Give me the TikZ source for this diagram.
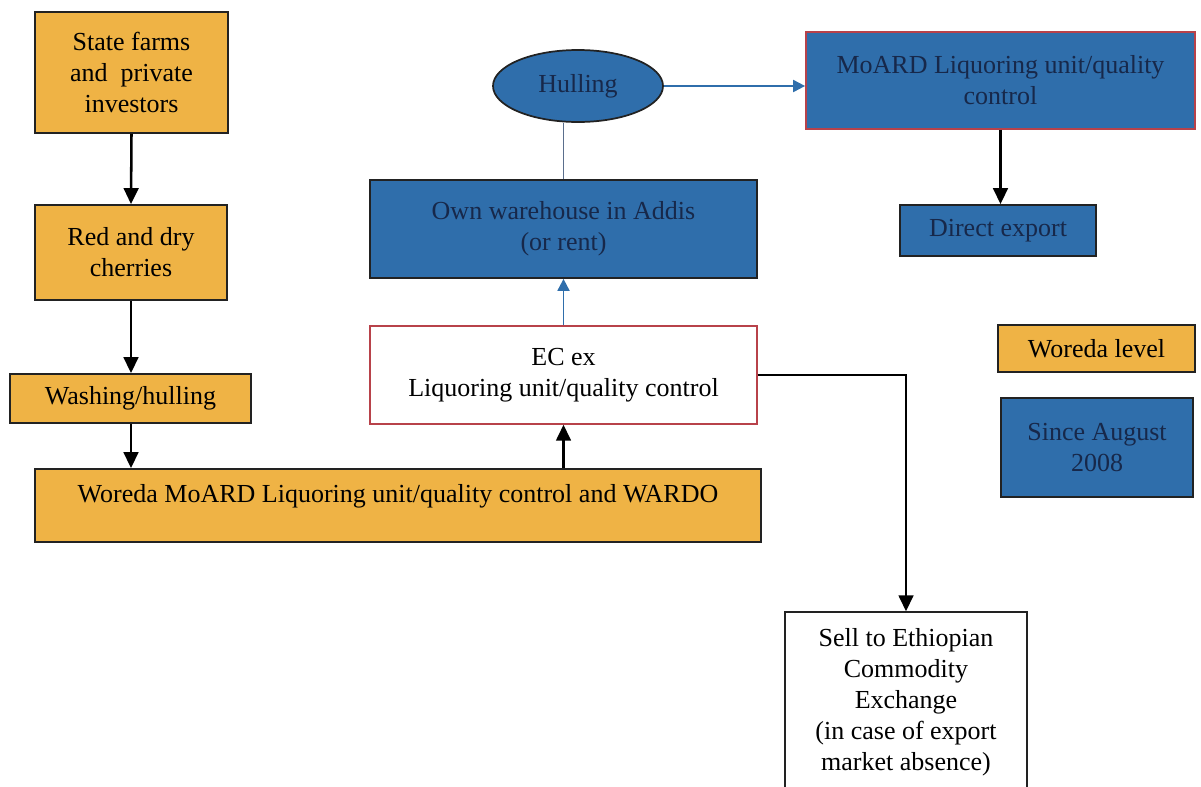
\documentclass[tikz,border=0pt]{standalone}
\usepackage{fontspec}
\setmainfont{Liberation Serif}
\usetikzlibrary{arrows.meta,shapes.geometric}
\definecolor{ochre}{HTML}{EFB345}
\definecolor{steel}{HTML}{2F6EAB}
\definecolor{navytext}{HTML}{17284A}
\definecolor{edgered}{HTML}{B8424A}
\definecolor{edgedark}{HTML}{222222}
\definecolor{linkgray}{HTML}{5A6E8C}
\tikzset{
  base/.style={rectangle, inner sep=0pt, align=center, font=\fontsize{19.5}{23.3}\selectfont},
  orangebox/.style={base, draw=edgedark, line width=1.3pt, fill=ochre, text=black},
  bluebox/.style={base, draw=edgedark, line width=1.3pt, fill=steel, text=navytext},
  whitebox/.style={base, draw=edgedark, line width=1pt, fill=white, text=black},
  label/.style={inner sep=0pt, align=center, font=\fontsize{19.5}{23.3}\selectfont},
  blackarrow/.style={draw=black, line width=1.9pt, -{Triangle[width=11pt,length=12pt]}},
  bluearrow/.style={draw=steel, line width=1.4pt, -{Triangle[width=9pt,length=9pt]}},
  plainline/.style={draw=linkgray, line width=1.4pt}
}
\begin{document}
\begin{tikzpicture}[x=0.75pt,y=-0.75pt]
\useasboundingbox (0,0) rectangle (1201,786);
\clip (0,0) rectangle (1201,786);

% left column, woreda level
\node[orangebox, minimum width=144.75pt, minimum height=90.75pt] (state) at (131.5,72.5)
  {State farms\\and\ \ private\\investors};
\node[orangebox, minimum width=144pt, minimum height=71.25pt] (cherries) at (131,252.5)
  {Red and dry\\cherries};
\node[orangebox, minimum width=180.75pt, minimum height=36.75pt] (washing) at (130.5,398.5)
  {Washing/hulling};
\node[orangebox, minimum width=544.5pt, minimum height=54.75pt] (woreda) at (398,505.5) {};
\node[label] (woredatext) at (398,496) {Woreda MoARD Liquoring unit/quality control and WARDO};

% central column
\node[whitebox, draw=edgered, minimum width=290.25pt, minimum height=73.5pt] (ecex) at (563.5,375)
  {EC ex\\Liquoring unit/quality control};
\node[bluebox, minimum width=290.25pt, minimum height=73.5pt] (warehouse) at (563.5,229)
  {Own warehouse in Addis\\(or rent)};
\node[ellipse, draw=edgedark, line width=1.3pt, fill=steel, text=navytext, inner sep=0pt,
  minimum width=127.5pt, minimum height=54pt, font=\fontsize{19.5}{23.3}\selectfont] (hulling) at (578,86)
  {Hulling};

% right column
\node[bluebox, draw=edgered, minimum width=291.75pt, minimum height=72.75pt] (moard) at (1000.5,80.5)
  {MoARD Liquoring unit/quality\\control};
\node[bluebox, minimum width=147pt, minimum height=38.25pt] (direct) at (998,230.5)
  {Direct export};
\node[whitebox, minimum width=181.5pt, minimum height=163.5pt] (sell) at (906,721) {};
\node[label] (selltext) at (906,702)
  {Sell to Ethiopian\\Commodity\\Exchange\\(in case of export\\market absence)};

% key
\node[orangebox, minimum width=147.75pt, minimum height=35.25pt] (keyorange) at (1096.5,348.5)
  {Woreda level};
\node[bluebox, minimum width=144pt, minimum height=74.25pt] (keyblue) at (1097,447.5)
  {Since August\\2008};

% connectors
\draw[blackarrow] (state.south) -- (cherries.north);
\draw[blackarrow] (cherries.south) -- (washing.north -| cherries.south);
\draw[blackarrow] (washing.south -| cherries.south) -- (woreda.north -| cherries.south);
\draw[blackarrow] (woreda.north -| ecex.south) -- (ecex.south);
\draw[bluearrow] (ecex.north) -- (warehouse.south);
\draw[plainline] (warehouse.north) -- (hulling.south -| warehouse.north);
\draw[bluearrow] (hulling.east) -- (moard.west |- hulling.east);
\draw[blackarrow] (moard.south) -- (direct.north -| moard.south);
\draw[blackarrow] (ecex.east) -| (sell.north);
\end{tikzpicture}
\end{document}
